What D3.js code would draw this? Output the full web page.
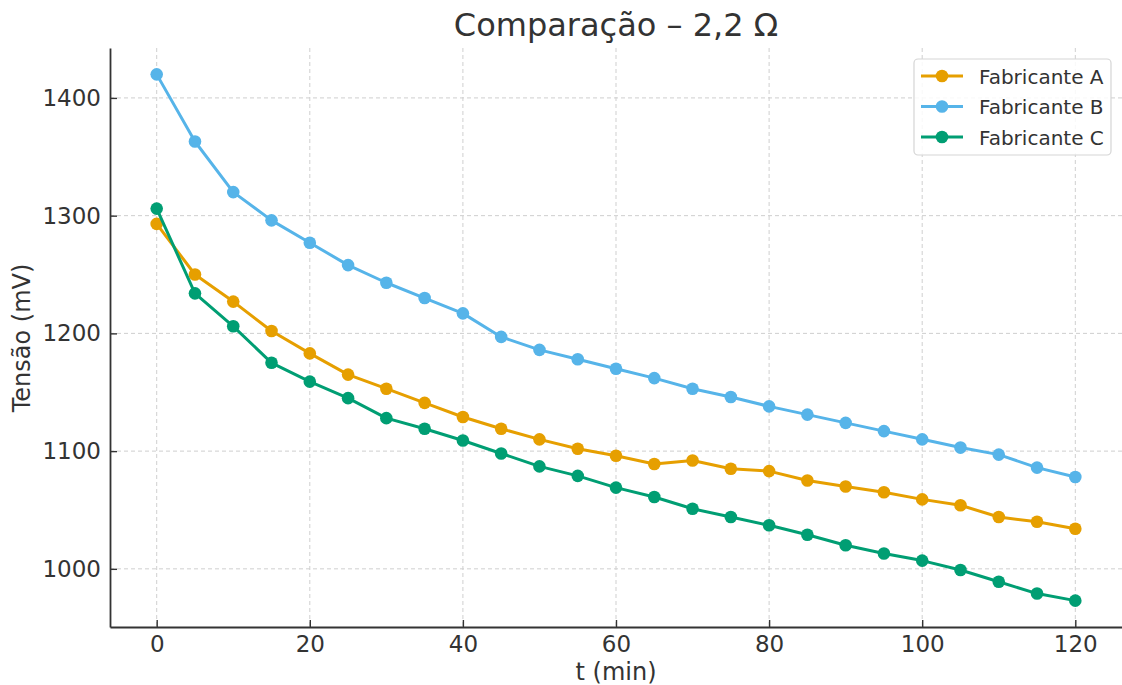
<!DOCTYPE html>
<html><head><meta charset="utf-8">
<script src="https://cdn.jsdelivr.net/npm/d3@7"></script>
<style>body{margin:0;background:#fff;} svg{display:block;font-family:"DejaVu Sans",sans-serif;}</style>
</head><body><svg id="c" width="1122" height="685"></svg>
<script>
const times = [0,5,10,15,20,25,30,35,40,45,50,55,60,65,70,75,80,85,90,95,100,105,110,115,120];
const seriesNames = ["Fabricante A","Fabricante B","Fabricante C"];
const fabA = [1293,1250,1227,1202,1183,1165,1153,1141,1129,1119,1110,1102,1096,1089,1092,1085,1083,1075,1070,1065,1059,1054,1044,1040,1034];
const fabB = [1420,1363,1320,1296,1277,1258,1243,1230,1217,1197,1186,1178,1170,1162,1153,1146,1138,1131,1124,1117,1110,1103,1097,1086,1078];
const fabC = [1306,1234,1206,1175,1159,1145,1128,1119,1109,1098,1087,1079,1069,1061,1051,1044,1037,1029,1020,1013,1007,999,989,979,973];
const colors = ["#E69F00","#56B4E9","#009E73"];
const xTicks = [0,20,40,60,80,100,120];
const yTicks = [1000,1100,1200,1300,1400];
const titleText = "Comparação – 2,2 Ω";
const xLabel = "t (min)";
const yLabel = "Tensão (mV)";

const svg = d3.select("#c");
const L = 110, R = 1122, T = 48, B = 627;
const x = d3.scaleLinear().domain([-6.1, 126.1]).range([L, R]);
const y = d3.scaleLinear().domain([950.6, 1442.4]).range([B, T]);

// grid
const g = svg.append("g");
g.selectAll(".gx").data(xTicks).enter().append("line")
  .attr("x1", d=>x(d)).attr("x2", d=>x(d)).attr("y1", T).attr("y2", B)
  .attr("stroke", "#cfcfcf").attr("stroke-width", 1).attr("stroke-dasharray", "4,3");
g.selectAll(".gy").data(yTicks).enter().append("line")
  .attr("y1", d=>y(d)).attr("y2", d=>y(d)).attr("x1", L).attr("x2", R)
  .attr("stroke", "#cfcfcf").attr("stroke-width", 1).attr("stroke-dasharray", "4,3");

// axes (ticks point inward)
const xAxis = svg.append("g").attr("transform", `translate(0,${B})`)
  .call(d3.axisBottom(x).tickValues(xTicks).tickSize(-7).tickPadding(16).tickSizeOuter(0));
const yAxis = svg.append("g").attr("transform", `translate(${L},0)`)
  .call(d3.axisLeft(y).tickValues(yTicks).tickFormat(d3.format("d")).tickSize(-7).tickPadding(16).tickSizeOuter(0));
[xAxis, yAxis].forEach(a => {
  a.select(".domain").attr("stroke", "#333").attr("stroke-width", 1.8);
  a.selectAll(".tick line").attr("stroke", "#333").attr("stroke-width", 1.4);
  a.selectAll(".tick text").attr("fill", "#333").style("font-size", "23px").style("font-family", "DejaVu Sans");
});
xAxis.selectAll(".tick text").attr("y", 9).attr("dy", "0.71em");
yAxis.selectAll(".tick text").attr("x", -9);

// lines
const all = [fabA, fabB, fabC];
const line = d3.line().x((d,i)=>x(times[i])).y(d=>y(d));
all.forEach((s, k) => {
  svg.append("path").datum(s).attr("d", line).attr("fill", "none")
    .attr("stroke", colors[k]).attr("stroke-width", 3).attr("stroke-linejoin", "round");
  svg.selectAll(".p"+k).data(s).enter().append("circle")
    .attr("cx", (d,i)=>x(times[i])).attr("cy", d=>y(d)).attr("r", 6.3).attr("fill", colors[k]);
});

// title + labels
svg.append("text").attr("x", 616).attr("y", 36).attr("text-anchor", "middle")
  .style("font-size", "32px").attr("fill", "#333").text(titleText);
svg.append("text").attr("x", 616).attr("y", 680).attr("text-anchor", "middle")
  .style("font-size", "24px").attr("fill", "#333").text(xLabel);
svg.append("text").attr("transform", "translate(30,338) rotate(-90)").attr("text-anchor", "middle")
  .style("font-size", "24px").attr("fill", "#333").text(yLabel);

// legend
const lg = svg.append("g");
lg.append("rect").attr("x", 914).attr("y", 59).attr("width", 197).attr("height", 96)
  .attr("rx", 4).attr("fill", "#fff").attr("fill-opacity", 0.85).attr("stroke", "#d5d5d5").attr("stroke-width", 1.2);
seriesNames.forEach((n, k) => {
  const yy = 76 + k * 30.5;
  lg.append("line").attr("x1", 921).attr("x2", 963).attr("y1", yy).attr("y2", yy)
    .attr("stroke", colors[k]).attr("stroke-width", 3);
  lg.append("circle").attr("cx", 942).attr("cy", yy).attr("r", 6.3).attr("fill", colors[k]);
  lg.append("text").attr("x", 979).attr("y", yy + 7.5).style("font-size", "20px")
    .attr("fill", "#333").text(n);
});
</script></body></html>
